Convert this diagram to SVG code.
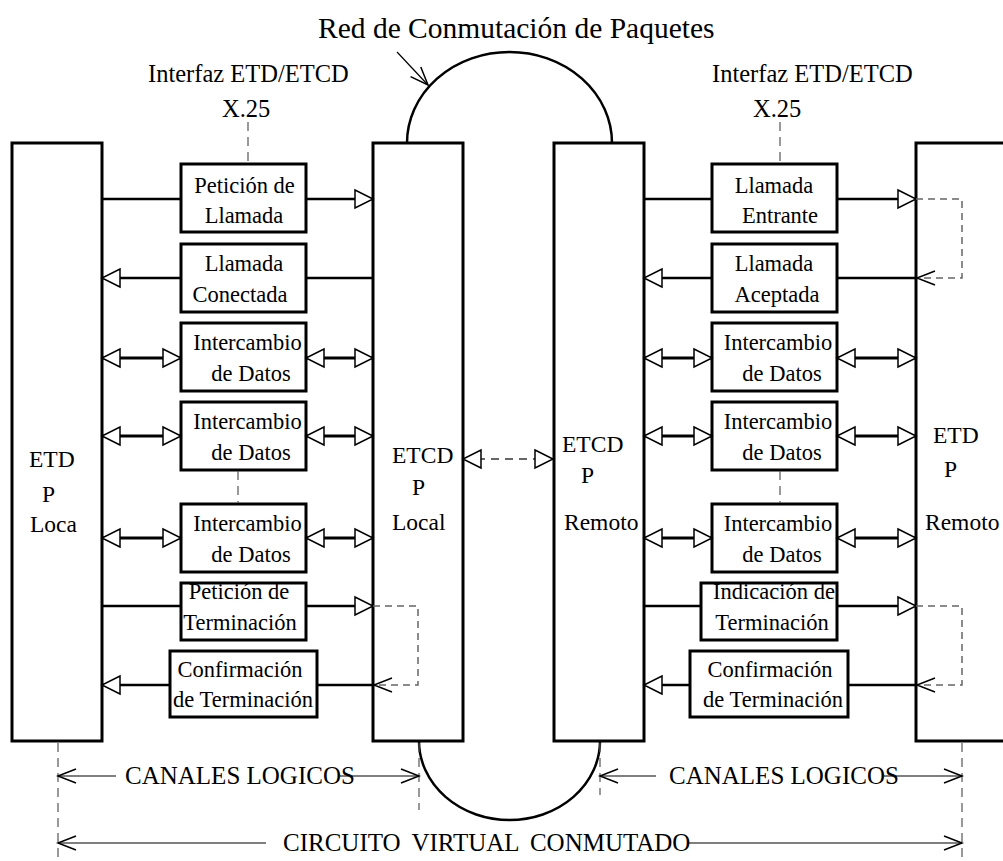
<svg xmlns="http://www.w3.org/2000/svg" width="1003" height="861" viewBox="0 0 1003 861">
  <style>
    text { font-family: "Liberation Serif", "Times New Roman", serif; fill: #000; }
    .lbl { font-size: 24.5px; }
    .box-t { font-size: 22.5px; text-anchor: middle; }
    .node-t { font-size: 23.5px; }
    .dim-t { font-size: 25px; }
    .title { font-size: 29.5px; }
    .station { fill: #fff; stroke: #000; stroke-width: 3; }
    .msg { fill: #fff; stroke: #000; stroke-width: 3; }
    .net { fill: none; stroke: #000; stroke-width: 2.5; }
    .wire { stroke: #000; stroke-width: 2.5; fill: none; }
    .dbl { stroke: #000; stroke-width: 3; fill: none; marker-start: url(#tri); marker-end: url(#tri); }
    .to { marker-end: url(#tri); }
    .loop { stroke: #666; stroke-width: 1.5; stroke-dasharray: 7 5; fill: none; marker-end: url(#vee); }
    .guide { stroke: #555; stroke-width: 1.2; stroke-dasharray: 9 6; fill: none; }
    .dim { stroke: #000; stroke-width: 1.2; fill: none; }
    .dim-l { marker-start: url(#vee); }
    .dim-r { marker-end: url(#vee); }
  </style>
  <defs>
    <marker id="tri" markerUnits="userSpaceOnUse" markerWidth="20" markerHeight="20" refX="18" refY="9" orient="auto-start-reverse" overflow="visible">
      <path d="M0,0 L18,9 L0,18 Z" fill="#fff" stroke="#000" stroke-width="1.5"/>
    </marker>
    <marker id="vee" markerUnits="userSpaceOnUse" markerWidth="20" markerHeight="16" refX="18" refY="7" orient="auto-start-reverse" overflow="visible">
      <path d="M0,0 L18,7 L0,14" fill="none" stroke="#000" stroke-width="1.5"/>
    </marker>
  </defs>

  <rect width="1003" height="861" fill="#fff"/>

  <!-- packet network cloud: upper and lower arcs joining the two ETCD -->
  <g id="red">
    <path class="net" d="M407,143 A102.5,91 0 0 1 612,143"/>
    <path class="net" d="M419,741 A90.5,79 0 0 0 600,741"/>
    <text class="title" x="318" y="38">Red de Conmutación de Paquetes</text>
    <path d="M397,52 L428,85" stroke="#000" stroke-width="1.2" marker-end="url(#vee)"/>
  </g>

  <!-- interface labels -->
  <g id="interfaz-local">
    <text class="lbl" x="148" y="82">Interfaz ETD/ETCD</text>
    <text class="lbl" x="222" y="117">X.25</text>
  </g>
  <g id="interfaz-remota">
    <text class="lbl" x="712" y="82">Interfaz ETD/ETCD</text>
    <text class="lbl" x="753" y="117">X.25</text>
  </g>

  <!-- stations -->
  <g id="etd-local">
    <rect class="station" x="12" y="143" width="90" height="598"/>
    <text class="node-t" x="29" y="467">ETD</text>
    <text class="node-t" x="42" y="502">P</text>
    <text class="node-t" x="30" y="532">Loca</text>
  </g>
  <g id="etcd-local">
    <rect class="station" x="373" y="143" width="90" height="598"/>
    <text class="node-t" x="392" y="463">ETCD</text>
    <text class="node-t" x="412" y="495">P</text>
    <text class="node-t" x="392" y="530">Local</text>
  </g>
  <g id="etcd-remoto">
    <rect class="station" x="554" y="143" width="90" height="598"/>
    <text class="node-t" x="562" y="452">ETCD</text>
    <text class="node-t" x="581" y="483">P</text>
    <text class="node-t" x="564" y="530">Remoto</text>
  </g>
  <g id="etd-remoto">
    <rect class="station" x="916" y="143" width="100" height="598"/>
    <text class="node-t" x="933" y="443">ETD</text>
    <text class="node-t" x="944" y="477">P</text>
    <text class="node-t" x="925" y="530">Remoto</text>
  </g>

  <!-- local side packets -->
  <g id="peticion-llamada">
    <rect class="msg" x="181" y="164" width="125" height="68"/>
    <text class="box-t" x="244.5" y="193">Petición de</text>
    <text class="box-t" x="244" y="223">Llamada</text>
  </g>
  <g id="llamada-conectada">
    <rect class="msg" x="181" y="244" width="125" height="68"/>
    <text class="box-t" x="244" y="271">Llamada</text>
    <text class="box-t" x="240" y="302">Conectada</text>
  </g>
  <g id="datos-local-1">
    <rect class="msg" x="181" y="323" width="125" height="68"/>
    <text class="box-t" x="247.5" y="350">Intercambio</text>
    <text class="box-t" x="251" y="381">de Datos</text>
  </g>
  <g id="datos-local-2">
    <rect class="msg" x="181" y="402" width="125" height="68"/>
    <text class="box-t" x="247.5" y="429">Intercambio</text>
    <text class="box-t" x="251" y="460">de Datos</text>
  </g>
  <g id="datos-local-3">
    <rect class="msg" x="181" y="504" width="125" height="68"/>
    <text class="box-t" x="247.5" y="531">Intercambio</text>
    <text class="box-t" x="251" y="562">de Datos</text>
  </g>
  <g id="peticion-terminacion">
    <rect class="msg" x="181" y="583" width="125" height="57"/>
    <text class="box-t" x="239" y="599">Petición de</text>
    <text class="box-t" x="240" y="630">Terminación</text>
  </g>
  <g id="confirmacion-local">
    <rect class="msg" x="170" y="651" width="147" height="66"/>
    <text class="box-t" x="240" y="677">Confirmación</text>
    <text class="box-t" x="243" y="707">de Terminación</text>
  </g>

  <!-- remote side packets -->
  <g id="llamada-entrante">
    <rect class="msg" x="712" y="164" width="125" height="68"/>
    <text class="box-t" x="774" y="193">Llamada</text>
    <text class="box-t" x="780" y="223">Entrante</text>
  </g>
  <g id="llamada-aceptada">
    <rect class="msg" x="712" y="244" width="125" height="68"/>
    <text class="box-t" x="774" y="271">Llamada</text>
    <text class="box-t" x="777" y="302">Aceptada</text>
  </g>
  <g id="datos-remoto-1">
    <rect class="msg" x="712" y="323" width="125" height="68"/>
    <text class="box-t" x="778" y="350">Intercambio</text>
    <text class="box-t" x="782" y="381">de Datos</text>
  </g>
  <g id="datos-remoto-2">
    <rect class="msg" x="712" y="402" width="125" height="68"/>
    <text class="box-t" x="778" y="429">Intercambio</text>
    <text class="box-t" x="782" y="460">de Datos</text>
  </g>
  <g id="datos-remoto-3">
    <rect class="msg" x="712" y="504" width="125" height="68"/>
    <text class="box-t" x="778" y="531">Intercambio</text>
    <text class="box-t" x="782" y="562">de Datos</text>
  </g>
  <g id="indicacion-terminacion">
    <rect class="msg" x="701" y="583" width="136" height="57"/>
    <text class="box-t" x="774" y="599">Indicación de</text>
    <text class="box-t" x="772" y="630">Terminación</text>
  </g>
  <g id="confirmacion-remoto">
    <rect class="msg" x="690" y="651" width="158" height="66"/>
    <text class="box-t" x="770" y="677">Confirmación</text>
    <text class="box-t" x="773" y="707">de Terminación</text>
  </g>

  <!-- connectors -->
  <g id="connectors">
    <!-- interface guide marks -->
    <line class="guide" x1="248" y1="122" x2="248" y2="162"/>
    <line class="guide" x1="780" y1="122" x2="780" y2="162"/>
    <line class="guide" x1="238" y1="471" x2="238" y2="503"/>
    <line class="guide" x1="780" y1="471" x2="780" y2="503"/>

    <!-- local side -->
    <line class="wire" x1="102" y1="199" x2="181" y2="199"/>
    <line class="wire to" x1="306" y1="199" x2="373" y2="199"/>
    <line class="wire to" x1="181" y1="278" x2="102" y2="278"/>
    <line class="wire" x1="306" y1="278" x2="373" y2="278"/>
    <line class="dbl" x1="102" y1="358" x2="181" y2="358"/>
    <line class="dbl" x1="306" y1="358" x2="373" y2="358"/>
    <line class="dbl" x1="102" y1="436" x2="181" y2="436"/>
    <line class="dbl" x1="306" y1="436" x2="373" y2="436"/>
    <line class="dbl" x1="102" y1="538" x2="181" y2="538"/>
    <line class="dbl" x1="306" y1="538" x2="373" y2="538"/>
    <line class="wire" x1="102" y1="606" x2="181" y2="606"/>
    <line class="wire to" x1="306" y1="606" x2="373" y2="606"/>
    <path class="loop" d="M373,606 H418 V685 H374"/>
    <line class="wire to" x1="170" y1="685" x2="102" y2="685"/>
    <line class="wire" x1="317" y1="685" x2="373" y2="685"/>

    <!-- between the two ETCD -->
    <line x1="463" y1="459" x2="553" y2="459" stroke="#666" stroke-width="2" stroke-dasharray="8 6" marker-start="url(#tri)" marker-end="url(#tri)"/>

    <!-- remote side -->
    <line class="wire" x1="644" y1="199" x2="712" y2="199"/>
    <line class="wire to" x1="837" y1="199" x2="916" y2="199"/>
    <path class="loop" d="M916,199 H962 V278 H917"/>
    <line class="wire to" x1="712" y1="278" x2="644" y2="278"/>
    <line class="wire" x1="837" y1="278" x2="916" y2="278"/>
    <line class="dbl" x1="644" y1="358" x2="712" y2="358"/>
    <line class="dbl" x1="837" y1="358" x2="916" y2="358"/>
    <line class="dbl" x1="644" y1="436" x2="712" y2="436"/>
    <line class="dbl" x1="837" y1="436" x2="916" y2="436"/>
    <line class="dbl" x1="644" y1="538" x2="712" y2="538"/>
    <line class="dbl" x1="837" y1="538" x2="916" y2="538"/>
    <line class="wire" x1="644" y1="606" x2="701" y2="606"/>
    <line class="wire to" x1="837" y1="606" x2="916" y2="606"/>
    <path class="loop" d="M916,606 H962 V685 H917"/>
    <line class="wire to" x1="690" y1="685" x2="644" y2="685"/>
    <line class="wire" x1="848" y1="685" x2="916" y2="685"/>

    <!-- extent lines and dimensions -->
    <line class="guide" x1="58" y1="743" x2="58" y2="861"/>
    <line class="guide" x1="419" y1="743" x2="419" y2="810"/>
    <line class="guide" x1="600" y1="743" x2="600" y2="795"/>
    <line class="guide" x1="962" y1="743" x2="962" y2="861"/>

    <line class="dim dim-l" x1="58" y1="776" x2="116" y2="776"/>
    <line class="dim dim-r" x1="340" y1="776" x2="419" y2="776"/>
    <line class="dim dim-l" x1="600" y1="776" x2="656" y2="776"/>
    <line class="dim dim-r" x1="884" y1="776" x2="962" y2="776"/>
    <line class="dim dim-l" x1="58" y1="843" x2="266" y2="843"/>
    <line class="dim dim-r" x1="688" y1="843" x2="962" y2="843"/>
  </g>

  <g id="dimensiones">
    <text class="dim-t" x="125" y="784">CANALES LOGICOS</text>
    <text class="dim-t" x="669" y="784">CANALES LOGICOS</text>
    <text class="dim-t" x="283" y="851" word-spacing="5">CIRCUITO VIRTUAL CONMUTADO</text>
  </g>
</svg>
